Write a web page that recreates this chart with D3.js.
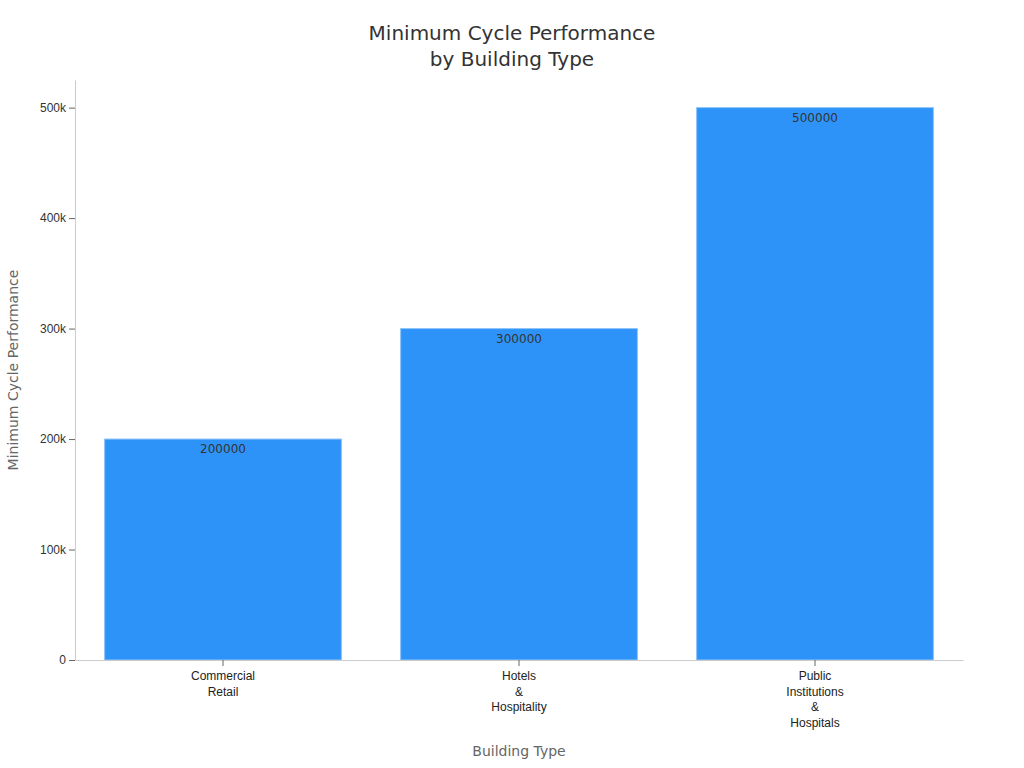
<!DOCTYPE html>
<html><head><meta charset="utf-8">
<script src="https://cdn.jsdelivr.net/npm/d3@7"></script>
<style>body{margin:0;background:#fff;font-family:"DejaVu Sans",sans-serif}</style>
</head><body><div id="chart"></div>
<script>
const categories = [["Commercial","Retail"],["Hotels","&","Hospitality"],["Public","Institutions","&","Hospitals"]];
const values = [200000, 300000, 500000];
const yTicks = [0, 100000, 200000, 300000, 400000, 500000];

const W = 1024, H = 768;
const margin = {top: 80, right: 61, bottom: 108, left: 75};
const width = W - margin.left - margin.right, height = H - margin.top - margin.bottom;

const svg = d3.select("#chart").append("svg").attr("width", W).attr("height", H);
const g = svg.append("g").attr("transform", `translate(${margin.left},${margin.top})`);

const x = d3.scaleBand().domain(d3.range(categories.length)).range([0, width]).paddingInner(0.2).paddingOuter(0.1);
const y = d3.scaleLinear().domain([0, 525000]).range([height, 0]);

// bars
g.selectAll("rect.bar").data(values).enter().append("rect")
  .attr("x", (d, i) => x(i)).attr("y", d => y(d))
  .attr("width", x.bandwidth()).attr("height", d => height - y(d))
  .attr("fill", "#2e93f8").attr("stroke", "#8cc4fb").attr("stroke-width", 1);

g.selectAll("text.val").data(values).enter().append("text")
  .attr("x", (d, i) => x(i) + x.bandwidth() / 2).attr("y", d => y(d) + 14)
  .attr("text-anchor", "middle").attr("font-size", 12).attr("fill", "#333").text(d => d);

// y axis
const yAxis = g.append("g").call(d3.axisLeft(y).tickValues(yTicks).tickFormat(d => d === 0 ? "0" : d / 1000 + "k").tickSizeOuter(0));
yAxis.select(".domain").attr("stroke", "#ccc");
yAxis.selectAll(".tick line").attr("stroke", "#666");
yAxis.selectAll("text").attr("font-size", 12).attr("fill", "#333");

// x axis
const xAxis = g.append("g").attr("transform", `translate(0,${height})`).call(d3.axisBottom(x).tickSizeOuter(0).tickFormat(""));
xAxis.select(".domain").attr("stroke", "#ccc");
xAxis.selectAll(".tick line").attr("stroke", "#666");
xAxis.selectAll(".tick").each(function(d) {
  const t = d3.select(this).append("text").attr("fill", "#222").attr("font-size", 12).attr("text-anchor", "middle");
  categories[d].forEach((line, k) => t.append("tspan").attr("x", 0).attr("y", 20 + k * 15.5).text(line));
});

// titles
const title = svg.append("text").attr("x", 512).attr("text-anchor", "middle").attr("font-size", 20).attr("fill", "#333");
title.append("tspan").attr("x", 512).attr("y", 40).text("Minimum Cycle Performance");
title.append("tspan").attr("x", 512).attr("y", 66).text("by Building Type");

svg.append("text").attr("x", margin.left + width / 2).attr("y", 756).attr("text-anchor", "middle")
  .attr("font-size", 14).attr("fill", "#666").text("Building Type");
svg.append("text").attr("transform", `translate(18,${margin.top + height / 2}) rotate(-90)`).attr("text-anchor", "middle")
  .attr("font-size", 14).attr("fill", "#666").text("Minimum Cycle Performance");
</script></body></html>
